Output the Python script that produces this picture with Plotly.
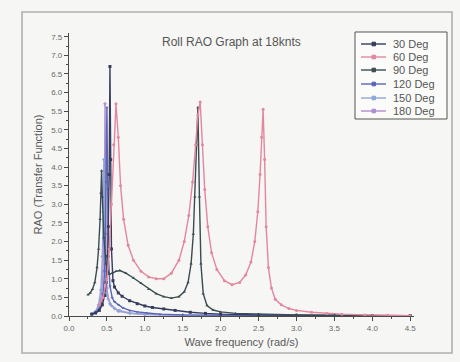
import plotly.graph_objects as go

# ---------------- data ----------------
series_names = ["30 Deg", "60 Deg", "90 Deg", "120 Deg", "150 Deg", "180 Deg"]

w_30 = [0.30, 0.35, 0.40, 0.44, 0.47, 0.49, 0.51, 0.52, 0.53, 0.54, 0.55, 0.56, 0.58, 0.60,
        0.65, 0.70, 0.80, 0.90, 1.00, 1.10, 1.25, 1.40, 1.60, 1.80, 2.00, 2.50, 3.00, 3.50, 4.00, 4.50]
rao_30 = [0.05, 0.08, 0.15, 0.30, 0.55, 0.90, 1.60, 2.40, 3.80, 6.70, 4.20, 1.80, 0.95, 0.78,
          0.62, 0.53, 0.41, 0.33, 0.27, 0.23, 0.19, 0.15, 0.10, 0.07, 0.05, 0.03, 0.02, 0.02, 0.01, 0.01]

w_60 = [0.40, 0.45, 0.50, 0.53, 0.56, 0.59, 0.62, 0.65, 0.68, 0.72, 0.78, 0.85, 0.95, 1.05, 1.15,
        1.25, 1.35, 1.45, 1.52, 1.58, 1.63, 1.67, 1.70, 1.73, 1.76, 1.79, 1.83, 1.88, 1.95, 2.05,
        2.15, 2.25, 2.33, 2.40, 2.45, 2.49, 2.52, 2.54, 2.56, 2.58, 2.60, 2.63, 2.67, 2.72, 2.80,
        2.90, 3.00, 3.20, 3.40, 3.60, 3.90, 4.20, 4.50]
rao_60 = [0.30, 0.50, 1.00, 1.80, 3.00, 4.60, 5.70, 4.80, 3.50, 2.60, 1.90, 1.50, 1.20, 1.05, 1.00,
          1.00, 1.15, 1.50, 2.00, 2.70, 3.60, 4.60, 5.40, 5.75, 4.60, 3.40, 2.40, 1.70, 1.25, 0.95,
          0.84, 0.90, 1.10, 1.45, 2.00, 2.80, 3.80, 4.80, 5.55, 4.20, 2.40, 1.30, 0.75, 0.45, 0.30,
          0.20, 0.15, 0.10, 0.07, 0.05, 0.03, 0.02, 0.01]

w_90 = [0.25, 0.28, 0.31, 0.34, 0.37, 0.39, 0.41, 0.42, 0.43, 0.44, 0.46, 0.49, 0.53, 0.57, 0.62,
        0.67, 0.75, 0.85, 0.95, 1.05, 1.15, 1.25, 1.35, 1.45, 1.52, 1.57, 1.61, 1.64, 1.66, 1.68,
        1.70, 1.72, 1.74, 1.77, 1.82, 1.90, 2.00, 2.20, 2.50, 3.00, 3.50, 4.00, 4.50]
rao_90 = [0.57, 0.62, 0.72, 0.90, 1.30, 1.80, 2.60, 3.30, 3.90, 3.20, 2.10, 1.40, 1.12, 1.15, 1.20,
          1.22, 1.15, 1.02, 0.88, 0.72, 0.60, 0.52, 0.48, 0.52, 0.65, 0.90, 1.40, 2.20, 3.20, 4.60,
          5.60, 3.20, 1.40, 0.60, 0.28, 0.16, 0.11, 0.07, 0.05, 0.03, 0.02, 0.01, 0.01]

w_120 = [0.30, 0.35, 0.40, 0.43, 0.45, 0.47, 0.48, 0.49, 0.50, 0.51, 0.52, 0.54, 0.57, 0.60, 0.65,
         0.71, 0.80, 0.90, 1.03, 1.20, 1.50, 2.00, 2.50, 3.00, 3.50, 4.00, 4.50]
rao_120 = [0.05, 0.10, 0.20, 0.35, 0.60, 1.20, 2.20, 3.60, 5.60, 3.40, 1.60, 0.80, 0.49, 0.38, 0.30,
           0.22, 0.15, 0.11, 0.08, 0.05, 0.03, 0.02, 0.01, 0.01, 0.01, 0.00, 0.00]

w_150 = [0.30, 0.35, 0.39, 0.42, 0.44, 0.45, 0.46, 0.47, 0.48, 0.50, 0.54, 0.60, 0.67, 0.80, 1.00,
         1.50, 2.00, 3.00, 4.50]
rao_150 = [0.05, 0.12, 0.30, 0.70, 1.60, 2.80, 4.20, 2.20, 0.90, 0.55, 0.33, 0.20, 0.14, 0.08, 0.05,
           0.02, 0.01, 0.01, 0.00]

w_180 = [0.30, 0.35, 0.40, 0.43, 0.45, 0.46, 0.47, 0.475, 0.48, 0.49, 0.50, 0.52, 0.56, 0.65, 0.80,
         1.00, 1.50, 2.00, 3.00, 4.50]
rao_180 = [0.05, 0.10, 0.25, 0.60, 1.20, 2.20, 3.80, 5.70, 3.60, 1.60, 0.75, 0.45, 0.28, 0.13, 0.07,
           0.04, 0.02, 0.01, 0.01, 0.00]

x_ticks = [0.0, 0.5, 1.0, 1.5, 2.0, 2.5, 3.0, 3.5, 4.0, 4.5]
y_ticks = [0.0, 0.5, 1.0, 1.5, 2.0, 2.5, 3.0, 3.5, 4.0, 4.5, 5.0, 5.5, 6.0, 6.5, 7.0, 7.5]

# ---------------- styling ----------------
colors = ["#353c5e", "#e3879f", "#3a4c52", "#5a66b4", "#8fa6d6", "#b18bd0"]
symbols = ["square", "circle", "triangle-up", "triangle-down", "diamond", "cross"]
FONT = "Arial, Liberation Sans, sans-serif"

W, H = 460, 362
L, R, T, B = 69, 46, 33, 46
PW, PH = W - L - R, H - T - B


def px(x):
    return (x - L) / PW


def py(y):
    return (H - B - y) / PH


xs = [w_30, w_60, w_90, w_120, w_150, w_180]
ys = [rao_30, rao_60, rao_90, rao_120, rao_150, rao_180]

fig = go.Figure()
order = [5, 4, 3, 0, 2, 1]
for i in order:
    fig.add_trace(go.Scatter(
        x=xs[i], y=ys[i], mode="lines+markers", name=series_names[i],
        line=dict(color=colors[i], width=1.4),
        marker=dict(symbol=symbols[i], size=3, color=colors[i]),
        showlegend=False,
    ))

axis_common = dict(
    showline=True, linecolor="#4a4a4a", linewidth=1.2,
    ticks="outside", ticklen=4, tickwidth=1, tickcolor="#4a4a4a",
    showgrid=False, zeroline=False,
    tickfont=dict(family=FONT, size=8, color="#6a6a6a"),
    mirror=False,
)

fig.update_xaxes(
    range=[0, 4.55], tickvals=x_ticks, ticktext=[f"{v:.1f}" for v in x_ticks],
    minor=dict(ticks="outside", ticklen=2, dtick=0.25, tickcolor="#4a4a4a"),
    title=dict(text="Wave frequency (rad/s)", standoff=6,
               font=dict(family=FONT, size=11, color="#5a5a5a")),
    **axis_common,
)
fig.update_yaxes(
    range=[0, 7.6], tickvals=y_ticks, ticktext=[f"{v:.1f}" for v in y_ticks],
    minor=dict(ticks="outside", ticklen=2, dtick=0.25, tickcolor="#4a4a4a"),
    title=dict(text="RAO (Transfer Function)", standoff=6,
               font=dict(family=FONT, size=11, color="#5a5a5a")),
    **axis_common,
)

shapes = []
annotations = []

# photo frame around the chart
shapes.append(dict(type="rect", xref="paper", yref="paper",
                   x0=px(22), x1=px(452), y0=py(353), y1=py(12),
                   line=dict(color="#b0b0b0", width=1.6), fillcolor="rgba(0,0,0,0)", layer="below"))

# title
annotations.append(dict(text="Roll RAO Graph at 18knts", xref="paper", yref="paper",
                        x=px(231), y=py(42), showarrow=False, xanchor="center", yanchor="middle",
                        font=dict(family=FONT, size=12, color="#555")))

# legend (box, sample lines, markers, labels)
shapes.append(dict(type="rect", xref="paper", yref="paper",
                   x0=px(355), x1=px(447), y0=py(119), y1=py(32),
                   line=dict(color="#555", width=1), fillcolor="#fbfbfa", layer="above"))
row_y = [44, 57, 70, 84, 98, 111]
for i, name in enumerate(series_names):
    yy = py(row_y[i])
    shapes.append(dict(type="line", xref="paper", yref="paper",
                       x0=px(361), x1=px(386), y0=yy, y1=yy,
                       line=dict(color=colors[i], width=1.4), layer="above"))
    shapes.append(dict(type="rect", xref="paper", yref="paper",
                       x0=px(372), x1=px(375.5), y0=py(row_y[i] + 1.8), y1=py(row_y[i] - 1.8),
                       line=dict(color=colors[i], width=1), fillcolor=colors[i], layer="above"))
    annotations.append(dict(text=name, xref="paper", yref="paper", x=px(391), y=yy,
                            showarrow=False, xanchor="left", yanchor="middle",
                            font=dict(family=FONT, size=11, color="#555")))

fig.update_layout(
    width=W, height=H,
    margin=dict(l=L, r=R, t=T, b=B, pad=0),
    paper_bgcolor="#f6f6f4", plot_bgcolor="#f6f6f4",
    shapes=shapes, annotations=annotations,
    showlegend=False,
)

fig.write_html("out.html")
